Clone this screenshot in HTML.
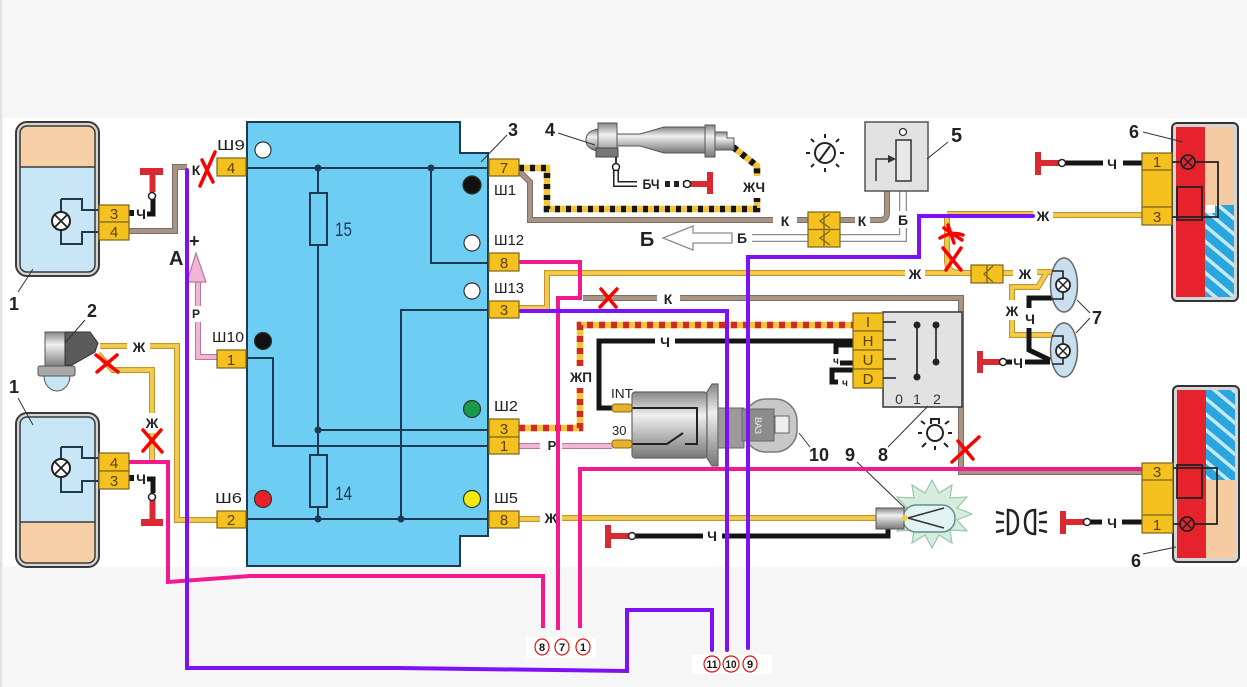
<!DOCTYPE html>
<html><head><meta charset="utf-8">
<style>
html,body{margin:0;padding:0;background:#f6f6f6;}
svg{display:block;}
text{font-family:"Liberation Sans",sans-serif;}
.b{font-weight:bold;}
</style></head><body>
<svg width="1247" height="687" viewBox="0 0 1247 687" xmlns="http://www.w3.org/2000/svg">
<defs>
<linearGradient id="gc" x1="0" y1="0" x2="0" y2="1">
<stop offset="0" stop-color="#858585"/><stop offset="0.35" stop-color="#f0f0f0"/><stop offset="1" stop-color="#777"/>
</linearGradient>
<pattern id="bs" width="12" height="12" patternUnits="userSpaceOnUse" patternTransform="rotate(-50)">
<rect width="12" height="12" fill="#2aa6de"/><rect width="3.5" height="12" fill="#c6e9f8"/>
</pattern>
<clipPath id="h1"><rect x="20" y="126" width="75" height="146" rx="7"/></clipPath>
<clipPath id="h2"><rect x="20" y="417" width="75" height="146" rx="7"/></clipPath>
<g id="yw">
<path d="M100 346 H127"/><path d="M150 346 H177 V520 H217"/>
<path d="M98 354 L113 370 H152 V413"/><path d="M152 433 V461"/>
<path d="M519 308 H547 V273 H905"/><path d="M925 273 H971"/>
<path d="M1003 273 H1013"/><path d="M1037 272 H1052"/>
<path d="M1047 272 L1038 287 H1012 V300"/><path d="M1012 320 V335 H1052"/>
<path d="M947 214 V260 Q947 273 960 273 H971"/>
<path d="M947 214 H1033"/><path d="M1053 215 H1142"/>
<path d="M519 519 H540"/><path d="M562 518 H876"/>
</g>
<g id="bw">
<path d="M129 231 H175 V167 H187"/>
<path d="M520 172 L530 182 V220 H773"/><path d="M797 220 H808"/><path d="M840 220 H855"/><path d="M870 220 H880 Q887 220 887 213 V191"/>
<path d="M583 298 H657"/><path d="M680 298 H961 V472 H1142"/>
</g>
</defs>

<rect width="1247" height="687" fill="#f6f6f6"/>
<rect x="3" y="118" width="1244" height="449" fill="#ffffff"/>
<rect x="0" y="0" width="2" height="687" fill="#e2e2e2"/>

<!-- wires: brown -->
<use href="#bw" fill="none" stroke="#7f6c60" stroke-width="6"/>
<use href="#bw" fill="none" stroke="#a89484" stroke-width="4"/>
<!-- yellow -->
<use href="#yw" fill="none" stroke="#c3962a" stroke-width="6"/>
<use href="#yw" fill="none" stroke="#f3cb4e" stroke-width="3.8"/>

<!-- Б white double wires -->
<g fill="none" stroke="#8c8c8c" stroke-width="8">
<path d="M752 238 H808"/><path d="M840 238 H903 V228"/><path d="M903 211 V181"/>
</g>
<g fill="none" stroke="#fff" stroke-width="5.5">
<path d="M752 238 H808"/><path d="M840 238 H903 V228"/><path d="M903 211 V181"/>
</g>
<path d="M663 238 L693 226 V233 H732 V243 H693 V250 Z" fill="#fff" stroke="#8c8c8c" stroke-width="1.3"/>

<!-- striped ЖЧ -->
<g fill="none" stroke-width="6.5">
<path d="M519 168 H547 V209 H757 V198" stroke="#f2c53a"/>
<path d="M519 168 H547 V209 H757 V198" stroke="#151515" stroke-dasharray="5 6"/>
<path d="M733 147 L757 166 V176" stroke="#f2c53a"/>
<path d="M733 147 L757 166 V176" stroke="#151515" stroke-dasharray="5 6"/>
</g>
<!-- ЖП -->
<g fill="none" stroke-width="6.5">
<path d="M519 428 H580 V388"/><path d="M580 366 V325 H853"/>
</g>
<g fill="none" stroke-width="6.5" stroke="#f2c53a"><path d="M519 428 H580 V388"/><path d="M580 366 V325 H853"/></g>
<g fill="none" stroke-width="6.5" stroke="#d12a26" stroke-dasharray="6 6"><path d="M519 428 H580 V388"/><path d="M580 366 V325 H853"/></g>
<!-- Р pink -->
<g fill="none" stroke="#b57a98" stroke-width="6"><path d="M519 446 H540"/><path d="M562 446 H612"/><path d="M217 357 H198 V322"/><path d="M198 306 V281"/></g>
<g fill="none" stroke="#f1b6d6" stroke-width="4"><path d="M519 446 H540"/><path d="M562 446 H612"/><path d="M217 357 H198 V322"/><path d="M198 306 V281"/></g>
<path d="M196 253 L206 282 H187 Z" fill="#f1b6d6" stroke="#b57a98" stroke-width="1.2"/>

<!-- black wires -->
<g fill="none" stroke="#151515" stroke-width="5">
<path d="M147 214 H153 V199"/><path d="M147 479 H153 V493"/>
<path d="M612 408 H599 V341 H655"/><path d="M675 341 H853"/>
<path d="M853 345 H836 V354"/><path d="M840 363 H853"/><path d="M853 370 H832 V382 H838"/>
<path d="M888 528 V536 H722"/><path d="M703 536 H635"/>
<path d="M1065 163 H1103"/><path d="M1123 163 H1142"/>
<path d="M1090 522 H1102"/><path d="M1122 522 H1142"/>
<path d="M1052 298 H1029 V308"/><path d="M1029 328 V350 L1050 360"/>
<path d="M1006 362 H1012"/><path d="M1025 362 H1050"/>
</g>
<!-- БЧ -->
<path d="M616 167 V184 H637" fill="none" stroke="#222" stroke-width="6"/>
<path d="M616 167 V184 H637" fill="none" stroke="#fff" stroke-width="3"/>
<path d="M665 184 H685" fill="none" stroke="#222" stroke-width="6" stroke-dasharray="5 4"/>

<!-- grounds -->
<g fill="#d82a30">
<rect x="140" y="168" width="23" height="7"/><rect x="149.5" y="175" width="6" height="17"/>
<rect x="141" y="519" width="22" height="7"/><rect x="149.5" y="500" width="6" height="19"/>
<rect x="688" y="181" width="20" height="6"/><rect x="707" y="172" width="6" height="22"/>
<rect x="1035" y="152" width="6" height="23"/><rect x="1040" y="160" width="20" height="6"/>
<rect x="977" y="351" width="6" height="22"/><rect x="982" y="359" width="18" height="6"/>
<rect x="605" y="525" width="6" height="23"/><rect x="610" y="533" width="20" height="6"/>
<rect x="1060" y="511" width="6" height="23"/><rect x="1065" y="519" width="20" height="6"/>
</g>
<g fill="#fff" stroke="#222" stroke-width="1.5">
<circle cx="152" cy="196" r="3.5"/><circle cx="152" cy="497" r="3.5"/>
<circle cx="687" cy="184" r="3.5"/><circle cx="616" cy="167" r="3.5"/>
<circle cx="1062" cy="163" r="3.5"/><circle cx="1003" cy="362" r="3.5"/>
<circle cx="632" cy="536" r="3.5"/><circle cx="1087" cy="522" r="3.5"/>
</g>
<rect x="129" y="210" width="5" height="6" fill="#151515"/>
<rect x="129" y="475" width="5" height="6" fill="#151515"/>

<!-- headlamp upper -->
<rect x="16" y="122" width="83" height="154" rx="11" fill="#d5d5d5" stroke="#3a3a3a" stroke-width="2"/>
<g clip-path="url(#h1)"><rect x="20" y="126" width="75" height="146" fill="#c9e6f7"/><rect x="20" y="126" width="75" height="41" fill="#f7cfa6"/></g>
<rect x="20" y="126" width="75" height="146" rx="7" fill="none" stroke="#3a3a3a" stroke-width="1.5"/>
<line x1="20" y1="167" x2="95" y2="167" stroke="#3a3a3a" stroke-width="1.5"/>
<path d="M61 199 H82 V210 H99 M61 199 V244 H82 V232 H99" fill="none" stroke="#1d3a52" stroke-width="2"/>
<circle cx="61" cy="221" r="9" fill="#fff" stroke="#222" stroke-width="2"/>
<path d="M55 215 L67 227 M67 215 L55 227" stroke="#222" stroke-width="1.8"/>
<!-- headlamp lower -->
<rect x="16" y="413" width="83" height="154" rx="11" fill="#d5d5d5" stroke="#3a3a3a" stroke-width="2"/>
<g clip-path="url(#h2)"><rect x="20" y="417" width="75" height="146" fill="#c9e6f7"/><rect x="20" y="522" width="75" height="41" fill="#f7cfa6"/></g>
<rect x="20" y="417" width="75" height="146" rx="7" fill="none" stroke="#3a3a3a" stroke-width="1.5"/>
<line x1="20" y1="522" x2="95" y2="522" stroke="#3a3a3a" stroke-width="1.5"/>
<path d="M61 447 H82 V458 H99 M61 447 V492 H82 V481 H99" fill="none" stroke="#1d3a52" stroke-width="2"/>
<circle cx="61" cy="468" r="9" fill="#fff" stroke="#222" stroke-width="2"/>
<path d="M55 462 L67 474 M67 462 L55 474" stroke="#222" stroke-width="1.8"/>

<!-- left connectors -->
<g fill="#f5c11e" stroke="#7a6420" stroke-width="1.2">
<rect x="99" y="205" width="30" height="17"/><rect x="99" y="222" width="30" height="18"/>
<rect x="99" y="453" width="30" height="18"/><rect x="99" y="471" width="30" height="18"/>
</g>
<g font-size="15" fill="#5a4200" text-anchor="middle">
<text x="114" y="219">3</text><text x="114" y="237">4</text>
<text x="114" y="468">4</text><text x="114" y="486">3</text>
</g>

<!-- device 2 -->
<rect x="45" y="332" width="22" height="36" fill="url(#gc)" stroke="#555"/>
<path d="M65 332 H90 L98 343 L95 352 L72 365 H65 Z" fill="#5a5a5a" stroke="#333"/>
<rect x="38" y="366" width="37" height="10" rx="2" fill="#a8a8a8" stroke="#555"/>
<path d="M44 376 A13 15 0 0 0 70 376 Z" fill="#c6e6f6" stroke="#555"/>

<!-- block 3 -->
<path d="M247 122 H460 V153 H488 V536 H460 V566 H247 Z" fill="#6dcdf3" stroke="#1e3a50" stroke-width="2"/>
<g fill="none" stroke="#1d3a52" stroke-width="2">
<path d="M247 168 H488"/><path d="M318 168 V519"/><path d="M431 168 V263 H488"/>
<path d="M488 310 H401 V519"/><path d="M247 358 H273 V446 H488"/><path d="M318 430 H488"/>
<path d="M247 519 H488"/>
</g>
<rect x="310" y="193" width="17" height="52" fill="#6dcdf3" stroke="#1d3a52" stroke-width="2"/>
<rect x="310" y="455" width="17" height="52" fill="#6dcdf3" stroke="#1d3a52" stroke-width="2"/>
<g fill="#1d3a52"><circle cx="318" cy="168" r="3.5"/><circle cx="431" cy="168" r="3.5"/><circle cx="318" cy="430" r="3.5"/><circle cx="318" cy="519" r="3.5"/><circle cx="401" cy="519" r="3.5"/></g>
<g stroke="#333" stroke-width="1.2">
<circle cx="263" cy="150" r="8" fill="#fff"/><circle cx="472" cy="185" r="9" fill="#111"/>
<circle cx="472" cy="243" r="8" fill="#fff"/><circle cx="472" cy="291" r="8" fill="#fff"/>
<circle cx="263" cy="341" r="8.5" fill="#111"/><circle cx="472" cy="409" r="8.5" fill="#1a9a4a"/>
<circle cx="263" cy="499" r="8.5" fill="#e8202a"/><circle cx="472" cy="499" r="8.5" fill="#f3ea10"/>
</g>
<text x="335" y="236" font-size="19" fill="#1d3a52" textLength="17" lengthAdjust="spacingAndGlyphs">15</text>
<text x="335" y="500" font-size="19" fill="#1d3a52" textLength="17" lengthAdjust="spacingAndGlyphs">14</text>

<!-- block connectors -->
<g fill="#f5c11e" stroke="#7a6420" stroke-width="1.2">
<rect x="217" y="158" width="29" height="18"/><rect x="217" y="350" width="29" height="18"/><rect x="217" y="511" width="29" height="17"/>
<rect x="489" y="159" width="30" height="17"/><rect x="489" y="253" width="30" height="18"/><rect x="489" y="301" width="30" height="17"/>
<rect x="489" y="419" width="30" height="18"/><rect x="489" y="437" width="30" height="17"/><rect x="489" y="511" width="30" height="17"/>
</g>
<g font-size="15" fill="#5a4200" text-anchor="middle">
<text x="231" y="173">4</text><text x="231" y="365">1</text><text x="231" y="525">2</text>
<text x="504" y="173">7</text><text x="504" y="268">8</text><text x="504" y="315">3</text>
<text x="504" y="434">3</text><text x="504" y="451">1</text><text x="504" y="525">8</text>
</g>
<g font-size="15" fill="#222">
<text x="217" y="150" textLength="28" lengthAdjust="spacingAndGlyphs">Ш9</text>
<text x="212" y="342" textLength="32" lengthAdjust="spacingAndGlyphs">Ш10</text>
<text x="215" y="503" textLength="27" lengthAdjust="spacingAndGlyphs">Ш6</text>
<text x="494" y="195" textLength="22" lengthAdjust="spacingAndGlyphs">Ш1</text>
<text x="494" y="245" textLength="30" lengthAdjust="spacingAndGlyphs">Ш12</text>
<text x="494" y="293" textLength="30" lengthAdjust="spacingAndGlyphs">Ш13</text>
<text x="494" y="411" textLength="24" lengthAdjust="spacingAndGlyphs">Ш2</text>
<text x="494" y="503" textLength="24" lengthAdjust="spacingAndGlyphs">Ш5</text>
</g>

<!-- device 4 -->
<path d="M598 129 Q586 131 586 140 Q586 149 598 151 Z" fill="url(#gc)" stroke="#555"/>
<rect x="598" y="123" width="19" height="34" fill="url(#gc)" stroke="#555"/>
<rect x="596" y="148" width="22" height="9" fill="#777" stroke="#444"/>
<path d="M617 134 H640 L664 127 H705 V153 H664 L640 146 H617 Z" fill="url(#gc)" stroke="#555"/>
<rect x="705" y="125" width="10" height="32" fill="url(#gc)" stroke="#555"/>
<path d="M715 132 H727 V138 H734 V150 H715 Z" fill="url(#gc)" stroke="#555"/>
<line x1="616" y1="157" x2="616" y2="164" stroke="#333" stroke-width="2"/>

<!-- device 5 -->
<rect x="865" y="122" width="63" height="69" fill="#e2e2e2" stroke="#555" stroke-width="1.5"/>
<circle cx="903" cy="132" r="3.5" fill="#fff" stroke="#333" stroke-width="1.3"/>
<rect x="896" y="140" width="15" height="41" fill="#e8e8e8" stroke="#333" stroke-width="1.5"/>
<path d="M876 181 V159 H890" fill="none" stroke="#333" stroke-width="1.5"/>
<path d="M896 159 L888 155 V163 Z" fill="#333"/>
<!-- sun icon -->
<g stroke="#222" stroke-width="2" fill="none">
<circle cx="825" cy="153" r="10"/>
<path d="M819 161 L830 146"/>
<path d="M825 138 V134 M825 168 V172 M810 153 H806 M840 153 H844 M814 142 L811 139 M836 142 L839 139 M814 164 L811 167 M836 164 L839 167"/>
</g>

<!-- connector double -->
<rect x="808" y="212" width="32" height="35" fill="#f5c11e" stroke="#7a6420" stroke-width="1.2"/>
<line x1="808" y1="229.5" x2="840" y2="229.5" stroke="#7a6420" stroke-width="1.2"/>
<path d="M824 213 V229 M830 214 L820 221 L830 228 M824 230 V246 M830 231 L820 238 L830 245" fill="none" stroke="#7a6420" stroke-width="1.3"/>
<!-- connector small near 7 -->
<rect x="971" y="265" width="32" height="18" fill="#f5c11e" stroke="#7a6420" stroke-width="1.2"/>
<path d="M987 265 V283 M993 266 L984 274 L993 282" fill="none" stroke="#7a6420" stroke-width="1.3"/>

<!-- rear light top -->
<rect x="1172" y="123" width="66" height="178" rx="5" fill="#d5d5d5" stroke="#333" stroke-width="2"/>
<rect x="1176" y="127" width="29" height="170" fill="#e6222c"/>
<rect x="1205" y="127" width="29" height="78" fill="#f6cba2"/>
<rect x="1205" y="205" width="29" height="92" fill="url(#bs)"/>
<rect x="1205" y="205" width="10" height="8" fill="#fff"/>
<rect x="1142" y="153" width="30" height="72" fill="#f5c11e" stroke="#7a6420" stroke-width="1.2"/>
<path d="M1142 170 H1172 M1142 207 H1172" stroke="#7a6420" stroke-width="1.2"/>
<text x="1157" y="167" font-size="15" fill="#5a4200" text-anchor="middle">1</text>
<text x="1157" y="222" font-size="15" fill="#5a4200" text-anchor="middle">3</text>
<path d="M1172 162 H1181 M1195 162 H1218 V217 H1172" fill="none" stroke="#222" stroke-width="1.8"/>
<rect x="1177" y="187" width="25" height="33" fill="none" stroke="#222" stroke-width="1.8"/>
<circle cx="1188" cy="162" r="7" fill="#e6222c" stroke="#222" stroke-width="1.8"/>
<path d="M1183.5 157.5 L1192.5 166.5 M1192.5 157.5 L1183.5 166.5" stroke="#222" stroke-width="1.5"/>

<!-- rear light bottom -->
<rect x="1173" y="386" width="66" height="176" rx="5" fill="#d5d5d5" stroke="#333" stroke-width="2"/>
<rect x="1177" y="390" width="29" height="168" fill="#e6222c"/>
<rect x="1206" y="390" width="29" height="90" fill="url(#bs)"/>
<rect x="1206" y="480" width="29" height="78" fill="#f6cba2"/>
<rect x="1142" y="463" width="31" height="70" fill="#f5c11e" stroke="#7a6420" stroke-width="1.2"/>
<path d="M1142 480 H1173 M1142 515 H1173" stroke="#7a6420" stroke-width="1.2"/>
<text x="1157" y="477" font-size="15" fill="#5a4200" text-anchor="middle">3</text>
<text x="1157" y="530" font-size="15" fill="#5a4200" text-anchor="middle">1</text>
<path d="M1173 524 H1180 M1194 524 H1217 V468 H1173" fill="none" stroke="#222" stroke-width="1.8"/>
<rect x="1177" y="465" width="25" height="33" fill="none" stroke="#222" stroke-width="1.8"/>
<circle cx="1187" cy="524" r="7" fill="#e6222c" stroke="#222" stroke-width="1.8"/>
<path d="M1182.5 519.5 L1191.5 528.5 M1191.5 519.5 L1182.5 528.5" stroke="#222" stroke-width="1.5"/>

<!-- lamps 7 -->
<ellipse cx="1064" cy="285" rx="13.5" ry="27" fill="#c8dff0" stroke="#666" stroke-width="1.5"/>
<ellipse cx="1064" cy="350" rx="13.5" ry="27" fill="#c8dff0" stroke="#666" stroke-width="1.5"/>
<path d="M1052 271 H1063 V278 M1063 292 V299 H1052 M1052 336 H1063 V344 M1063 358 V364 H1052" fill="none" stroke="#222" stroke-width="1.6"/>
<circle cx="1063" cy="285" r="7" fill="#fff" stroke="#222" stroke-width="1.8"/>
<path d="M1058.5 280.5 L1067.5 289.5 M1067.5 280.5 L1058.5 289.5" stroke="#222" stroke-width="1.5"/>
<circle cx="1063" cy="351" r="7" fill="#fff" stroke="#222" stroke-width="1.8"/>
<path d="M1058.5 346.5 L1067.5 355.5 M1067.5 346.5 L1058.5 355.5" stroke="#222" stroke-width="1.5"/>

<!-- switch 8 -->
<rect x="883" y="312" width="79" height="95" fill="#e2e2e2" stroke="#333" stroke-width="1.5"/>
<g fill="#f5c11e" stroke="#7a6420" stroke-width="1.2">
<rect x="853" y="313" width="30" height="18"/><rect x="853" y="331" width="30" height="19"/><rect x="853" y="350" width="30" height="19"/><rect x="853" y="369" width="30" height="19"/>
</g>
<g font-size="15" fill="#5a4200" text-anchor="middle">
<text x="868" y="327">I</text><text x="868" y="346">H</text><text x="868" y="365">U</text><text x="868" y="384">D</text>
</g>
<path d="M883 322 H896 M883 340 H896 M883 359 H896 M883 378 H896 M917 325 V377 M936 325 V362" fill="none" stroke="#333" stroke-width="1.8"/>
<g fill="#222"><circle cx="917" cy="325" r="3.5"/><circle cx="917" cy="377" r="3.5"/><circle cx="936" cy="325" r="3.5"/><circle cx="936" cy="362" r="3.5"/></g>
<g font-size="14" fill="#333" text-anchor="middle"><text x="899" y="404">0</text><text x="917" y="404">1</text><text x="937" y="404">2</text></g>
<g stroke="#222" stroke-width="2" fill="none">
<circle cx="935" cy="433" r="8"/>
<path d="M931 424 V419 H939 V424 M935 446 V450 M922 433 H918 M948 433 H952 M926 443 L922 447 M944 443 L948 447 M925 424 L921 421 M945 424 L949 421"/>
</g>

<!-- ignition switch 10 -->
<rect x="632" y="392" width="75" height="66" rx="3" fill="url(#gc)" stroke="#666" stroke-width="1.2"/>
<path d="M707 392 L712 384 H718 V466 H712 L707 458 Z" fill="url(#gc)" stroke="#666" stroke-width="1.2"/>
<rect x="718" y="408" width="26" height="40" fill="#9a9a9a" stroke="#666"/>
<rect x="744" y="399" width="53" height="53" rx="22" fill="#c8c8c8" stroke="#7a7a7a" stroke-width="1.5"/>
<rect x="742" y="409" width="32" height="32" fill="#8c8c8c" stroke="#666"/>
<rect x="775" y="416" width="14" height="17" fill="#eee" stroke="#666"/>
<text x="0" y="0" font-size="9" fill="#eee" transform="translate(755 417) rotate(90)">ВАЗ</text>
<path d="M630 408 H697 V444 H685 M630 444 H667 L683 433" fill="none" stroke="#222" stroke-width="2"/>
<rect x="612" y="404" width="20" height="8" rx="3" fill="#e8b030" stroke="#8a6a10"/>
<rect x="612" y="440" width="20" height="8" rx="3" fill="#e8b030" stroke="#8a6a10"/>
<text x="611" y="398" font-size="13" fill="#222" textLength="22" lengthAdjust="spacingAndGlyphs">INT</text>
<text x="612" y="435" font-size="13" fill="#222">30</text>

<!-- bulb 9 -->
<polygon points="972,514 957,520 967,531 950,530 952,543 939,535 932,548 925,535 912,543 914,530 897,531 907,520 892,514 907,508 897,497 914,498 912,485 925,493 932,480 939,493 952,485 950,498 967,497 957,508" fill="#d6ecde" stroke="#9cc6ac" stroke-width="1.2"/>
<rect x="903" y="505" width="52" height="27" rx="13" fill="#e2f3f3" stroke="#5f8f8f" stroke-width="1.5"/>
<path d="M908 518 L944 508 M908 518 L944 528" fill="none" stroke="#333" stroke-width="1.5"/>
<rect x="876" y="508" width="28" height="21" fill="url(#gc)" stroke="#555"/>
<circle cx="905" cy="518" r="3" fill="#f0d040"/>

<!-- headlamp symbol -->
<g stroke="#222" stroke-width="2.5" fill="none">
<path d="M996 512 L1004 514 M996 522 H1004 M996 532 L1004 530"/>
<path d="M1008 510 Q1018 510 1018 522 Q1018 534 1008 534 Z"/>
<path d="M1035 510 Q1025 510 1025 522 Q1025 534 1035 534 Z"/>
<path d="M1039 514 L1047 512 M1039 522 H1047 M1039 530 L1047 532"/>
</g>

<!-- wire labels -->
<g font-size="14" class="b" fill="#222" text-anchor="middle">
<text x="141" y="219">Ч</text><text x="141" y="484">Ч</text>
<text x="196" y="175">К</text>
<text x="139" y="352">Ж</text>
<text x="152" y="428">Ж</text>
<text x="196" y="318" font-size="12">Р</text>
<text x="651" y="189" textLength="17" lengthAdjust="spacingAndGlyphs">БЧ</text>
<text x="754" y="192" textLength="22" lengthAdjust="spacingAndGlyphs">ЖЧ</text>
<text x="785" y="226">К</text><text x="862" y="226">К</text>
<text x="742" y="243">Б</text><text x="903" y="225">Б</text>
<text x="668" y="304">К</text>
<text x="915" y="279">Ж</text><text x="1025" y="279">Ж</text>
<text x="1043" y="221">Ж</text>
<text x="1012" y="316">Ж</text>
<text x="1030" y="324">Ч</text>
<text x="1018" y="368">Ч</text>
<text x="665" y="347">Ч</text>
<text x="581" y="382" textLength="22" lengthAdjust="spacingAndGlyphs">ЖП</text>
<text x="552" y="450" font-size="13">Р</text>
<text x="551" y="523">Ж</text>
<text x="712" y="541">Ч</text>
<text x="1112" y="169">Ч</text>
<text x="1112" y="528">Ч</text>
<text x="836" y="364" font-size="10">ч</text>
<text x="845" y="386" font-size="10">ч</text>
</g>
<text x="647" y="246" font-size="20" class="b" fill="#222" text-anchor="middle">Б</text>
<text x="169" y="265" font-size="20" class="b" fill="#222">А</text>
<text x="189" y="247" font-size="18" class="b" fill="#222">+</text>

<!-- number labels and leaders -->
<g stroke="#333" stroke-width="1">
<line x1="18" y1="292" x2="33" y2="269"/><line x1="18" y1="398" x2="33" y2="425"/>
<line x1="85" y1="320" x2="65" y2="343"/>
<line x1="507" y1="135" x2="481" y2="162"/>
<line x1="558" y1="133" x2="595" y2="145"/>
<line x1="927" y1="159" x2="948" y2="142"/>
<line x1="1143" y1="132" x2="1183" y2="142"/>
<line x1="1143" y1="554" x2="1176" y2="547"/>
<line x1="1090" y1="313" x2="1077" y2="300"/><line x1="1090" y1="318" x2="1076" y2="333"/>
<line x1="799" y1="433" x2="810" y2="447"/>
<line x1="857" y1="462" x2="905" y2="508"/>
<line x1="888" y1="447" x2="928" y2="406"/>
</g>
<g font-size="18" class="b" fill="#222">
<text x="9" y="310">1</text><text x="9" y="393">1</text><text x="87" y="317">2</text>
<text x="508" y="136">3</text><text x="545" y="136">4</text><text x="951" y="142" font-size="20">5</text>
<text x="1129" y="138">6</text><text x="1131" y="567">6</text><text x="1092" y="324">7</text>
<text x="878" y="461">8</text><text x="845" y="461">9</text><text x="809" y="461">10</text>
</g>

<!-- user drawn overlays -->
<g fill="none" stroke="#f31a8f" stroke-width="4">
<path d="M519 262 H580 V298 H558 V630"/>
<path d="M129 462 H168 V582 L250 576 H543 V628"/>
<path d="M1142 469 H580 V628"/>
</g>
<g fill="none" stroke="#7d10f5" stroke-width="4" stroke-linecap="round">
<path d="M187 170 V668 L399 668 L627 671 V610 H712 V650"/>
<path d="M521 311 H727 V650"/>
<path d="M1033 216 H919 V257 H748 V648"/>
</g>
<g fill="none" stroke="#ff0000" stroke-width="3.5" stroke-linecap="round">
<path d="M215 152 L200 186 M202 160 L213 182"/>
<path d="M96 355 L118 372 M97 372 L117 355"/>
<path d="M143 430 L162 452 M161 430 L143 451"/>
<path d="M601 289 L616 307 M617 289 L600 307"/>
<path d="M940 238 Q952 231 963 235 M948 225 L954 243 M944 228 L962 240"/>
<path d="M943 248 L961 270 M961 248 L946 270"/>
<path d="M952 462 L979 437 M958 441 L973 459"/>
</g>

<!-- bottom labels -->
<rect x="526" y="637" width="70" height="21" fill="#fff"/>
<rect x="692" y="655" width="80" height="19" fill="#fff"/>
<g fill="#fff" stroke="#e01010" stroke-width="1.2">
<ellipse cx="542" cy="647" rx="7" ry="8"/><ellipse cx="562" cy="647" rx="7" ry="8"/><ellipse cx="583" cy="647" rx="7" ry="8"/>
<ellipse cx="712" cy="664" rx="8" ry="8"/><ellipse cx="731" cy="664" rx="8" ry="8"/><ellipse cx="750" cy="664" rx="7" ry="8"/>
</g>
<g font-size="11" fill="#111" text-anchor="middle" class="b">
<text x="542" y="651">8</text><text x="562" y="651">7</text><text x="583" y="651">1</text>
<text x="712" y="668" textLength="11" lengthAdjust="spacingAndGlyphs">11</text><text x="731" y="668" textLength="11" lengthAdjust="spacingAndGlyphs">10</text><text x="750" y="668">9</text>
</g>
</svg>
</body></html>
